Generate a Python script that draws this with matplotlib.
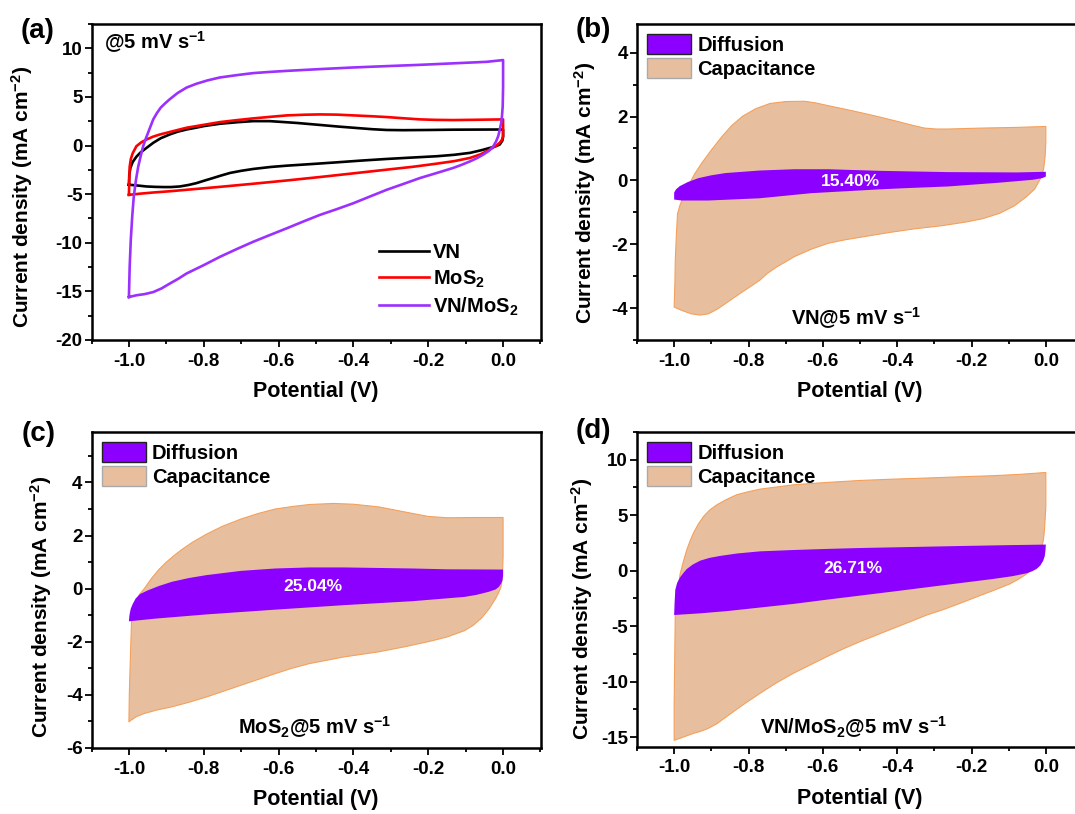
import numpy as np
import matplotlib.pyplot as plt
from matplotlib.patches import Patch
from matplotlib.ticker import MultipleLocator

plt.rcParams['font.family'] = ['Liberation Sans', 'DejaVu Sans']
plt.rcParams['font.weight'] = 'bold'
plt.rcParams['axes.unicode_minus'] = False
plt.rcParams['mathtext.fontset'] = 'custom'
plt.rcParams['mathtext.rm'] = 'Liberation Sans:bold'
plt.rcParams['mathtext.bf'] = 'Liberation Sans:bold'
plt.rcParams['mathtext.default'] = 'bf'

# ---- CV loops at 5 mV/s : forward (-1 -> 0 V) and reverse (0 -> -1 V) branches ----
# VN
vn_fwd_v = [-1.0, -0.999, -0.996, -0.99, -0.98, -0.97, -0.955, -0.935, -0.915, -0.891, -0.87, -0.846, -0.82, -0.80, -0.757,
            -0.71, -0.668, -0.624, -0.60, -0.55, -0.49, -0.44, -0.40, -0.35, -0.311, -0.267, -0.2, -0.133, 0.0]
vn_fwd_i = [-4.03, -3.0, -2.3, -1.7, -1.15, -0.75, -0.3, 0.28, 0.75, 1.14, 1.42, 1.65, 1.84, 2.0, 2.24,
            2.4, 2.51, 2.51, 2.45, 2.32, 2.12, 1.95, 1.83, 1.68, 1.6, 1.58, 1.6, 1.63, 1.65]
vn_rev_v = [0.0, 0.0, -0.002, -0.009, -0.02, -0.035, -0.06, -0.088, -0.13, -0.177, -0.25, -0.311, -0.38, -0.445, -0.51,
            -0.578, -0.62, -0.668, -0.70, -0.73, -0.755, -0.775, -0.80, -0.819, -0.84, -0.864, -0.888, -0.908, -0.93,
            -0.953, -0.975, -1.0]
vn_rev_i = [1.65, 0.9, 0.5, 0.1, -0.08, -0.24, -0.5, -0.75, -0.95, -1.1, -1.25, -1.38, -1.55, -1.73, -1.9,
            -2.07, -2.2, -2.41, -2.6, -2.82, -3.1, -3.34, -3.63, -3.86, -4.05, -4.21, -4.27, -4.27, -4.25,
            -4.21, -4.12, -4.03]

# MoS2
ms_fwd_v = [-1.0, -0.999, -0.998, -0.995, -0.99, -0.98, -0.967, -0.953, -0.935, -0.917, -0.88, -0.846, -0.80, -0.757,
            -0.71, -0.668, -0.62, -0.578, -0.53, -0.49, -0.445, -0.40, -0.355, -0.311, -0.265, -0.222, -0.18, -0.133,
            -0.07, 0.0]
ms_fwd_i = [-5.07, -3.5, -2.2, -1.4, -0.8, -0.07, 0.33, 0.62, 0.92, 1.14, 1.5, 1.83, 2.13, 2.41,
            2.62, 2.79, 2.96, 3.1, 3.17, 3.2, 3.18, 3.1, 3.02, 2.93, 2.8, 2.69, 2.64, 2.62,
            2.65, 2.69]
ms_rev_v = [0.0, 0.0, -0.003, -0.009, -0.02, -0.035, -0.06, -0.088, -0.13, -0.177, -0.24, -0.311, -0.40, -0.49,
            -0.58, -0.668, -0.757, -0.846, -0.89, -0.935, -0.97, -1.0]
ms_rev_i = [2.69, 0.96, 0.6, 0.28, -0.05, -0.41, -0.9, -1.27, -1.6, -1.86, -2.18, -2.48, -2.86, -3.24,
            -3.6, -3.93, -4.25, -4.55, -4.7, -4.83, -4.95, -5.07]

# VN/MoS2
vm_fwd_v = [-1.0, -0.998, -0.995, -0.991, -0.987, -0.981, -0.975, -0.968, -0.962, -0.955, -0.945, -0.935, -0.925,
            -0.915, -0.903, -0.891, -0.87, -0.846, -0.82, -0.79, -0.757, -0.71, -0.668, -0.62, -0.578, -0.49, -0.40,
            -0.31, -0.222, -0.13, -0.044, 0.0]
vm_fwd_i = [-15.58, -12.5, -9.7, -7.2, -5.24, -3.5, -2.14, -1.0, -0.07, 0.7, 1.7, 2.69, 3.35,
            3.9, 4.35, 4.76, 5.4, 5.96, 6.35, 6.7, 7.0, 7.25, 7.45, 7.58, 7.68, 7.86, 8.03,
            8.17, 8.3, 8.46, 8.61, 8.79]
vm_rev_v = [0.0, 0.0, -0.001, -0.003, -0.005, -0.009, -0.013, -0.019, -0.026, -0.038, -0.053, -0.07, -0.088, -0.11,
            -0.133, -0.177, -0.222, -0.265, -0.311, -0.355, -0.40, -0.445, -0.49, -0.535, -0.578, -0.623, -0.668,
            -0.712, -0.757, -0.80, -0.846, -0.868, -0.891, -0.913, -0.935, -0.958, -0.98, -1.0]
vm_rev_i = [8.79, 6.0, 4.06, 3.0, 2.35, 1.6, 0.96, 0.4, -0.07, -0.55, -0.93, -1.3, -1.62, -1.97,
            -2.3, -2.82, -3.34, -3.93, -4.55, -5.23, -5.93, -6.55, -7.14, -7.83, -8.51, -9.2, -9.9,
            -10.65, -11.45, -12.3, -13.16, -13.7, -14.2, -14.7, -15.07, -15.28, -15.4, -15.58]

# ---- (b) VN : total CV area and diffusion-controlled part ----
b_cap_fwd_v = [-1.0, -0.998, -0.997, -0.994, -0.991, -0.985, -0.975, -0.963, -0.945, -0.926, -0.90, -0.871, -0.845,
               -0.816, -0.78, -0.742, -0.70, -0.65, -0.62, -0.585, -0.54, -0.493, -0.445, -0.40, -0.36, -0.327,
               -0.295, -0.263, -0.17, -0.08, 0.0]
b_cap_fwd_i = [-3.97, -3.2, -2.5, -1.7, -1.05, -0.8, -0.5, -0.19, 0.2, 0.54, 0.95, 1.38, 1.72,
               2.01, 2.25, 2.41, 2.47, 2.48, 2.43, 2.34, 2.23, 2.11, 1.98, 1.85, 1.73, 1.64,
               1.61, 1.61, 1.64, 1.66, 1.69]
b_cap_rev_v = [0.0, 0.0, -0.002, -0.006, -0.016, -0.03, -0.052, -0.085, -0.124, -0.17, -0.213, -0.28, -0.355, -0.42,
               -0.493, -0.54, -0.585, -0.63, -0.677, -0.70, -0.724, -0.75, -0.77, -0.794, -0.816, -0.84, -0.862,
               -0.885, -0.908, -0.93, -0.954, -0.978, -1.0]
b_cap_rev_i = [1.69, 1.2, 0.74, 0.35, 0.02, -0.27, -0.51, -0.8, -1.03, -1.2, -1.3, -1.42, -1.52, -1.63,
               -1.77, -1.86, -1.97, -2.15, -2.39, -2.55, -2.71, -2.92, -3.13, -3.32, -3.49, -3.68, -3.86,
               -4.04, -4.18, -4.22, -4.18, -4.08, -3.97]

b_dif_fwd_v = [-1.0, -0.995, -0.985, -0.963, -0.935, -0.90, -0.862, -0.77, -0.677, -0.585, -0.447, -0.263, -0.078, 0.0]
b_dif_fwd_i = [-0.38, -0.28, -0.18, -0.05, 0.07, 0.16, 0.23, 0.31, 0.35, 0.35, 0.30, 0.26, 0.25, 0.27]
b_dif_rev_v = [0.0, -0.01, -0.035, -0.124, -0.263, -0.392, -0.447, -0.631, -0.77, -0.908, -0.98, -1.0, -1.0]
b_dif_rev_i = [0.12, 0.07, 0.02, -0.07, -0.19, -0.25, -0.28, -0.40, -0.56, -0.63, -0.63, -0.6, -0.5]

# ---- (c) MoS2 ----
c_cap_fwd_v = [-1.0, -0.999, -0.997, -0.995, -0.993, -0.988, -0.982, -0.972, -0.959, -0.94, -0.92, -0.90, -0.88,
               -0.86, -0.83, -0.793, -0.75, -0.701, -0.655, -0.609, -0.56, -0.517, -0.453, -0.40, -0.333, -0.285,
               -0.241, -0.2, -0.149, -0.07, 0.0]
c_cap_fwd_i = [-5.02, -4.0, -3.04, -2.1, -1.25, -0.85, -0.5, -0.22, 0.0, 0.38, 0.72, 1.0, 1.24,
               1.46, 1.75, 2.05, 2.35, 2.62, 2.83, 3.0, 3.1, 3.17, 3.21, 3.18, 3.08, 2.95,
               2.83, 2.72, 2.67, 2.68, 2.68]
c_cap_rev_v = [0.0, 0.0, -0.002, -0.006, -0.012, -0.02, -0.037, -0.057, -0.08, -0.103, -0.15, -0.195, -0.26, -0.333,
               -0.425, -0.517, -0.565, -0.609, -0.655, -0.701, -0.747, -0.793, -0.84, -0.885, -0.925, -0.959,
               -0.98, -0.995, -1.0]
c_cap_rev_i = [2.68, 1.2, 0.38, 0.05, -0.15, -0.37, -0.75, -1.1, -1.38, -1.58, -1.82, -1.98, -2.18, -2.38,
               -2.57, -2.82, -3.0, -3.2, -3.42, -3.64, -3.86, -4.08, -4.28, -4.45, -4.57, -4.7,
               -4.82, -4.96, -5.02]

c_dif_fwd_v = [-1.0, -0.999, -0.998, -0.995, -0.99, -0.982, -0.97, -0.949, -0.92, -0.885, -0.84, -0.793, -0.701,
               -0.609, -0.517, -0.425, -0.333, -0.241, -0.149, 0.0]
c_dif_fwd_i = [-1.23, -1.05, -0.95, -0.75, -0.58, -0.37, -0.2, -0.06, 0.1, 0.26, 0.4, 0.51, 0.67,
               0.76, 0.80, 0.80, 0.78, 0.76, 0.73, 0.72]
c_dif_rev_v = [0.0, -0.002, -0.005, -0.011, -0.02, -0.039, -0.07, -0.103, -0.241, -0.425, -0.609, -0.793, -0.931, -1.0]
c_dif_rev_i = [0.5, 0.3, 0.2, 0.07, -0.03, -0.12, -0.23, -0.31, -0.47, -0.62, -0.79, -0.97, -1.13, -1.23]

# ---- (d) VN/MoS2 ----
d_cap_fwd_v = [-1.0, -1.0, -0.999, -0.998, -0.997, -0.991, -0.984, -0.975, -0.966, -0.957, -0.948, -0.935, -0.921,
               -0.905, -0.885, -0.86, -0.832, -0.80, -0.769, -0.72, -0.679, -0.59, -0.5, -0.41, -0.32, -0.23, -0.142,
               -0.07, 0.0]
d_cap_fwd_i = [-15.3, -12.0, -9.25, -6.5, -3.9, -1.9, -0.3, 0.85, 1.88, 2.7, 3.4, 4.2, 4.88,
               5.45, 5.94, 6.4, 6.84, 7.12, 7.35, 7.56, 7.74, 7.95, 8.13, 8.25, 8.35, 8.46, 8.56,
               8.68, 8.85]
d_cap_rev_v = [0.0, 0.0, -0.002, -0.003, -0.005, -0.007, -0.012, -0.018, -0.025, -0.038, -0.052, -0.075, -0.097,
               -0.142, -0.185, -0.231, -0.275, -0.32, -0.365, -0.41, -0.455, -0.5, -0.545, -0.589, -0.634, -0.679,
               -0.724, -0.769, -0.815, -0.859, -0.885, -0.91, -0.93, -0.948, -0.975, -1.0]
d_cap_rev_i = [8.85, 5.8, 4.6, 4.0, 3.2, 2.7, 1.9, 1.2, 0.6, 0.1, -0.3, -0.8, -1.2,
               -1.8, -2.35, -2.95, -3.5, -4.0, -4.6, -5.2, -5.8, -6.4, -7.05, -7.75, -8.5, -9.25,
               -10.1, -11.06, -12.1, -13.16, -13.8, -14.25, -14.5, -14.67, -15.0, -15.3]

d_dif_fwd_v = [-1.0, -0.999, -0.997, -0.992, -0.984, -0.975, -0.966, -0.95, -0.93, -0.905, -0.876, -0.83, -0.769,
               -0.68, -0.589, -0.5, -0.41, -0.231, -0.1, 0.0]
d_dif_fwd_i = [-4.0, -3.0, -1.73, -1.1, -0.6, -0.2, 0.15, 0.55, 0.9, 1.15, 1.33, 1.55, 1.74,
               1.86, 1.96, 2.04, 2.1, 2.22, 2.3, 2.35]
d_dif_rev_v = [0.0, -0.001, -0.003, -0.007, -0.015, -0.025, -0.037, -0.052, -0.09, -0.142, -0.23, -0.32, -0.41,
               -0.5, -0.59, -0.679, -0.77, -0.859, -0.93, -1.0]
d_dif_rev_i = [2.35, 1.8, 1.3, 0.9, 0.45, 0.15, -0.06, -0.24, -0.5, -0.75, -1.12, -1.5, -1.88,
               -2.25, -2.62, -3.0, -3.33, -3.65, -3.85, -4.0]

c_purple_line = '#9B30FF'
c_diff = '#8C00FF'
c_cap = '#E8BF9E'
c_cap_edge = '#F5A05A'

W, H = 1075, 814
fig = plt.figure(figsize=(W / 100, H / 100), dpi=100)


def make_axes(l, t, r, b):
    return fig.add_axes([l / W, 1 - b / H, (r - l) / W, (b - t) / H])


def style(ax, ylim, ymajor):
    ax.set_xlim(-1.1, 0.1)
    ax.set_ylim(*ylim)
    ax.xaxis.set_major_locator(MultipleLocator(0.2))
    ax.xaxis.set_minor_locator(MultipleLocator(0.1))
    ax.yaxis.set_major_locator(MultipleLocator(ymajor))
    ax.yaxis.set_minor_locator(MultipleLocator(ymajor / 2))
    ax.tick_params(which='both', direction='out', top=False, right=False, width=1.3)
    ax.tick_params(which='major', length=5, labelsize=13.5)
    ax.tick_params(axis='x', which='major', pad=4)
    ax.tick_params(axis='y', which='major', pad=1.5)
    ax.tick_params(which='minor', length=3)
    for s in ax.spines.values():
        s.set_linewidth(1.8)
    ax.set_xlabel('Potential (V)', fontsize=15.5, fontweight='bold')
    ax.set_ylabel('Current density (mA cm$^{-2}$)', fontsize=15, fontweight='bold')


def loop(fv, fi, rv, ri):
    return np.concatenate([fv, rv]), np.concatenate([fi, ri])


# (a) CV curves
ax_a = make_axes(91.5, 24, 540.5, 340)
for fv, fi, rv, ri, col, lab in [
        (vn_fwd_v, vn_fwd_i, vn_rev_v, vn_rev_i, 'black', 'VN'),
        (ms_fwd_v, ms_fwd_i, ms_rev_v, ms_rev_i, 'red', 'MoS$_2$'),
        (vm_fwd_v, vm_fwd_i, vm_rev_v, vm_rev_i, c_purple_line, 'VN/MoS$_2$')]:
    v, i = loop(fv, fi, rv, ri)
    ax_a.plot(v, i, color=col, lw=1.9, label=lab)
style(ax_a, (-20, 12.5), 5)
ax_a.legend(loc='lower right', frameon=False, fontsize=14.5, handlelength=2.5,
            handletextpad=0.2, labelspacing=0.3, borderaxespad=0.7)
ax_a.text(0.027, 0.943, '@5 mV s$^{-1}$', transform=ax_a.transAxes, fontsize=14.5,
          fontweight='bold', va='center', ha='left')
ax_a.yaxis.set_label_coords(-0.126, 0.453)
ax_a.xaxis.set_label_coords(0.5, -0.13)


def contribution_panel(box, ylim, ymajor, cap, dif, pct, pct_xy, tag, tag_xy, ylab_x, ylab_y):
    ax = make_axes(*box)
    v, i = loop(*cap)
    ax.fill(v, i, facecolor=c_cap, edgecolor=c_cap_edge, lw=0.8)
    v, i = loop(*dif)
    ax.fill(v, i, facecolor=c_diff, edgecolor='none')
    ax.text(*pct_xy, pct, color='white', fontsize=12.5, fontweight='bold', ha='center', va='center')
    ax.text(*tag_xy, tag, fontsize=14.5, fontweight='bold', ha='center', va='center')
    style(ax, ylim, ymajor)
    handles = [Patch(facecolor=c_diff, edgecolor='#222222', lw=1.0),
               Patch(facecolor=c_cap, edgecolor='#aaaaaa', lw=1.0)]
    ax.legend(handles, ['Diffusion', 'Capacitance'], loc='upper left', frameon=False,
              fontsize=14.5, handlelength=2.2, handleheight=1.15, handletextpad=0.3,
              labelspacing=0.15, borderpad=0.2, borderaxespad=0.3)
    ax.yaxis.set_label_coords(ylab_x, ylab_y)
    ax.xaxis.set_label_coords(0.5, -0.13)
    return ax


contribution_panel((637, 24, 1083, 340), (-5, 4.9), 2,
                   (b_cap_fwd_v, b_cap_fwd_i, b_cap_rev_v, b_cap_rev_i),
                   (b_dif_fwd_v, b_dif_fwd_i, b_dif_rev_v, b_dif_rev_i),
                   '15.40%', (-0.525, -0.03), 'VN@5 mV s$^{-1}$', (-0.51, -4.33), -0.087, 0.465)
contribution_panel((91.5, 432, 540.5, 748), (-6, 5.9), 2,
                   (c_cap_fwd_v, c_cap_fwd_i, c_cap_rev_v, c_cap_rev_i),
                   (c_dif_fwd_v, c_dif_fwd_i, c_dif_rev_v, c_dif_rev_i),
                   '25.04%', (-0.508, 0.07), 'MoS$_2$@5 mV s$^{-1}$', (-0.503, -5.2), -0.083, 0.446)
contribution_panel((637, 432, 1083, 747), (-15.9, 12.5), 5,
                   (d_cap_fwd_v, d_cap_fwd_i, d_cap_rev_v, d_cap_rev_i),
                   (d_dif_fwd_v, d_dif_fwd_i, d_dif_rev_v, d_dif_rev_i),
                   '26.71%', (-0.518, 0.23), 'VN/MoS$_2$@5 mV s$^{-1}$', (-0.518, -14.1), -0.094, 0.437)

for lab, x, y in [('(a)', 21, 31), ('(b)', 576, 30), ('(c)', 22, 434), ('(d)', 576, 431)]:
    fig.text(x / W, 1 - y / H, lab, fontsize=20, fontweight='bold', ha='left', va='center')

fig.savefig('out.png', dpi=100)
